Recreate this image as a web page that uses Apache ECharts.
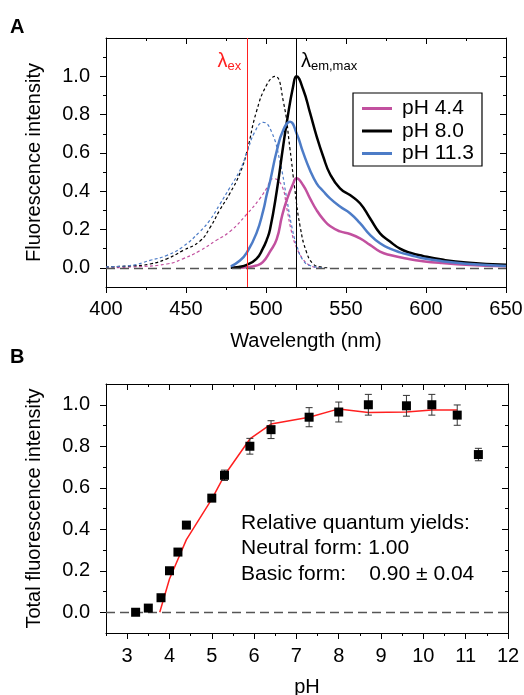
<!DOCTYPE html>
<html><head><meta charset="utf-8">
<script src="https://cdn.jsdelivr.net/npm/echarts@6/dist/echarts.min.js"></script>
<style>html,body{margin:0;padding:0;background:#fff}#c{width:524px;height:695px}</style>
</head><body><div id="c"></div>
<script>
const FONT = 'Liberation Sans, Arial, Helvetica, sans-serif';

// ---------- Panel A data (wavelength nm, normalised intensity) ----------
const seriesNames = ['pH 4.4', 'pH 8.0', 'pH 11.3'];
// emission (solid)
const em44_wl = [480,488,494,498,502.5,506.7,510,513,517,519,523.3,527.5,531.7,535.8,540,546.25,552.5,558.75,565,571.25,577.5,590,598,610,625,650];
const em44_I  = [0,0.003,0.012,0.03,0.085,0.15,0.27,0.355,0.44,0.468,0.43,0.363,0.30,0.253,0.218,0.19,0.177,0.154,0.12,0.085,0.067,0.045,0.035,0.025,0.016,0.008];
const em80_wl = [478,483,488,494,498,500.4,502.5,506.7,510.8,513,517,519,523.3,527.5,531.7,535.8,540,546.25,552.5,558.75,565,571.25,577.5,583.75,590,598,610,625,650];
const em80_I  = [0,0.005,0.016,0.047,0.10,0.145,0.20,0.40,0.64,0.76,0.95,1.0,0.93,0.81,0.685,0.58,0.49,0.415,0.38,0.337,0.259,0.18,0.137,0.10,0.079,0.062,0.043,0.028,0.016];
const em113_wl = [478,483.75,488,494,498.3,500.4,502.5,506.7,510.8,515,519.2,523.3,527.5,531.7,535.8,540,546.25,552.5,558.75,565,571.25,577.5,583.75,590,598,610,625,650];
const em113_I  = [0.008,0.038,0.08,0.18,0.30,0.38,0.45,0.61,0.72,0.763,0.70,0.60,0.51,0.44,0.40,0.363,0.32,0.285,0.233,0.172,0.128,0.10,0.081,0.067,0.05,0.035,0.022,0.01];
// excitation (dashed)
const ex44_wl = [400,417,438,448,458.75,469,477.5,488,496,500,504.6,509.8,513,516,519,523,527.5,533];
const ex44_I  = [0,0.005,0.02,0.047,0.09,0.144,0.19,0.28,0.36,0.41,0.466,0.43,0.31,0.187,0.108,0.047,0.012,0];
const ex80_wl = [400,415,427.5,438,448,458.75,465,471,477.5,483.75,488,494,500.4,505.6,510.8,515,518,521.25,525.4,529.6,534,540];
const ex80_I  = [0.005,0.01,0.02,0.047,0.09,0.14,0.21,0.30,0.39,0.495,0.605,0.815,0.955,1.0,0.87,0.62,0.41,0.22,0.08,0.02,0.005,0];
const ex113_wl = [400,415,427.5,438,448,458.75,465,471,477.5,483.75,488,493,498.3,503.5,508.75,513,516,519.2,523.3,527.5,535];
const ex113_I  = [0.005,0.012,0.039,0.065,0.11,0.19,0.25,0.33,0.42,0.51,0.60,0.71,0.76,0.71,0.553,0.36,0.22,0.117,0.038,0.012,0];
const lambdaEx = 488;
const lambdaEmMax = 519;

const aXTicks = [400,450,500,550,600,650];
const aXMinor = [425,475,525,575,625];
const aYTicks = [0,0.2,0.4,0.6,0.8,1.0];
const aYMinor = [0.1,0.3,0.5,0.7,0.9,1.1];

// ---------- Panel B data ----------
const pH      = [3.2,3.5,3.8,4.0,4.2,4.4,5.0,5.3,5.9,6.4,7.3,8.0,8.7,9.6,10.2,10.8,11.3];
const totalI  = [0.00,0.02,0.07,0.20,0.29,0.42,0.55,0.66,0.80,0.88,0.94,0.965,1.00,0.995,1.00,0.95,0.76];
const totalErr= [0,0,0,0,0,0,0.015,0.025,0.038,0.043,0.046,0.048,0.05,0.05,0.05,0.049,0.03];
const fit_pH  = [3.77,4.0,4.4,5.0,5.3,5.9,6.4,7.3,8.0,8.7,9.6,10.2,10.8];
const fit_I   = [0,0.16,0.35,0.545,0.66,0.835,0.907,0.94,0.98,0.963,0.965,0.975,0.975];

const bXTicks = [3,4,5,6,7,8,9,10,11,12];
const bXMinor = [2.5,3.5,4.5,5.5,6.5,7.5,8.5,9.5,10.5,11.5];
const bYTicks = [0,0.2,0.4,0.6,0.8,1.0];
const bYMinor = [0.1,0.3,0.5,0.7,0.9];

const zip = (a, b) => a.map((v, i) => [v, b[i]]);

const C_PINK = '#c2509f', C_BLACK = '#000000', C_BLUE = '#4d7cc7', C_RED = '#ff2020';
const lineSt = {color: '#000', width: 1};

function axisSet(dim, gridIndex, majors, minors, min, max, fmt, name, nameGap, labelMargin) {
  const isX = dim === 'x';
  const main = isX ? 'bottom' : 'left';
  const opp = isX ? 'top' : 'right';
  const base = {gridIndex, type: 'value', min, max, splitLine: {show: false}, axisPointer: {show: false}};
  return [
    Object.assign({}, base, {
      position: main,
      axisLine: {show: true, onZero: false, lineStyle: lineSt},
      axisTick: {show: true, inside: false, length: 6, customValues: majors, lineStyle: lineSt},
      axisLabel: {show: true, customValues: majors, formatter: fmt, margin: labelMargin,
        fontSize: 20, color: '#000', fontFamily: FONT},
      name, nameLocation: 'middle', nameGap,
      nameTextStyle: {fontSize: 20, color: '#000', fontFamily: FONT}
    }),
    Object.assign({}, base, {
      position: main,
      axisLine: {show: false, onZero: false},
      axisTick: {show: true, inside: false, length: 3, customValues: minors, lineStyle: lineSt},
      axisLabel: {show: false}
    }),
    Object.assign({}, base, {
      position: opp,
      axisLine: {show: true, onZero: false, lineStyle: lineSt},
      axisTick: {show: true, inside: true, length: 6, customValues: majors, lineStyle: lineSt},
      axisLabel: {show: false}
    }),
    Object.assign({}, base, {
      position: opp,
      axisLine: {show: false, onZero: false},
      axisTick: {show: true, inside: true, length: 3, customValues: minors, lineStyle: lineSt},
      axisLabel: {show: false}
    })
  ];
}

const fmt1 = v => (Math.abs(v) < 1e-9 ? 0 : v).toFixed(1);
const fmt0 = v => String(Math.round(v));

const xAxis = [].concat(
  axisSet('x', 0, aXTicks, aXMinor, 400, 650, fmt0, 'Wavelength (nm)', 44, 12),
  axisSet('x', 1, bXTicks, bXMinor, 2.5, 12, fmt0, 'pH', 44, 13)
);
const yAxis = [].concat(
  axisSet('y', 0, aYTicks, aYMinor, -0.1, 1.2, fmt1, 'Fluorescence intensity', 62, 16),
  axisSet('y', 1, bYTicks, bYMinor, -0.1, 1.1, fmt1, 'Total fluorescence intensity', 62, 16)
);

function solid(name, wl, I, color) {
  return {name, type: 'line', xAxisIndex: 0, yAxisIndex: 0, data: zip(wl, I),
    smooth: 0.5, showSymbol: false, symbol: 'none', color,
    itemStyle: {color}, lineStyle: {color, width: 2.5}, z: 4};
}
function dashed(name, wl, I, color) {
  return {name, type: 'line', xAxisIndex: 0, yAxisIndex: 0, data: zip(wl, I),
    smooth: 0.5, showSymbol: false, symbol: 'none', color,
    itemStyle: {color}, lineStyle: {color, width: 1.2, type: [3, 2.5]}, z: 3};
}
// full-height vertical rule drawn through the axis scale
function vrule(name, value, color, width) {
  return {name, type: 'custom', xAxisIndex: 0, yAxisIndex: 0, z: 5, silent: true,
    data: [[value]],
    renderItem: (params, api) => {
      const cs = params.coordSys;
      const x = Math.round(api.coord([api.value(0), 0])[0]) + 0.5;
      return {type: 'line', shape: {x1: x, y1: cs.y, x2: x, y2: cs.y + cs.height},
        style: {stroke: color, lineWidth: width}};
    }};
}

const zeroLine = {silent: true, symbol: ['none', 'none'], label: {show: false}, animation: false,
  lineStyle: {color: '#555', width: 1.3, type: [9, 5], opacity: 1}, data: [{yAxis: 0}]};

const lamRich = color => ({
  l: {fontSize: 20, lineHeight: 22, color, fontFamily: FONT},
  s: {fontSize: 13, lineHeight: 13, verticalAlign: 'bottom', color, fontFamily: FONT}
});

const series = [
  Object.assign(dashed('ex 4.4', ex44_wl, ex44_I, C_PINK), {markLine: zeroLine}),
  Object.assign(dashed('ex 8.0', ex80_wl, ex80_I, C_BLACK), {
    markPoint: {silent: true, symbol: 'circle', symbolSize: 1, itemStyle: {color: 'rgba(0,0,0,0)'},
      data: [{coord: [lambdaEx, 1.075], label: {show: true, position: 'left', distance: 5,
        formatter: '{l|λ}{s|ex}', rich: lamRich(C_RED)}}]}
  }),
  dashed('ex 11.3', ex113_wl, ex113_I, C_BLUE),
  solid(seriesNames[0], em44_wl, em44_I, C_PINK),
  Object.assign(solid(seriesNames[1], em80_wl, em80_I, C_BLACK), {
    markPoint: {silent: true, symbol: 'circle', symbolSize: 1, itemStyle: {color: 'rgba(0,0,0,0)'},
      data: [{coord: [lambdaEmMax, 1.075], label: {show: true, position: 'right', distance: 4,
        formatter: '{l|λ}{s|em,max}', rich: lamRich('#000')}}]}
  }),
  solid(seriesNames[2], em113_wl, em113_I, C_BLUE),
  vrule('λex', lambdaEx, C_RED, 1),
  vrule('λem,max', lambdaEmMax, '#000', 1),
  // Panel B
  {name: 'fit', type: 'line', xAxisIndex: 4, yAxisIndex: 4, data: zip(fit_pH, fit_I),
    showSymbol: false, symbol: 'none', lineStyle: {color: C_RED, width: 1.5}, color: C_RED, z: 3,
    markLine: zeroLine},
  {name: 'err', type: 'custom', xAxisIndex: 4, yAxisIndex: 4, z: 4,
    data: pH.map((x, i) => [x, totalI[i] - totalErr[i], totalI[i] + totalErr[i]]),
    renderItem: (params, api) => {
      const x = api.value(0);
      const p1 = api.coord([x, api.value(1)]);
      const p2 = api.coord([x, api.value(2)]);
      const w = 3.5, st = {stroke: '#333', lineWidth: 1};
      return {type: 'group', children: [
        {type: 'line', shape: {x1: p1[0], y1: p1[1], x2: p2[0], y2: p2[1]}, style: st},
        {type: 'line', shape: {x1: p1[0] - w, y1: p1[1], x2: p1[0] + w, y2: p1[1]}, style: st},
        {type: 'line', shape: {x1: p2[0] - w, y1: p2[1], x2: p2[0] + w, y2: p2[1]}, style: st}
      ]};
    }},
  {name: 'total', type: 'scatter', xAxisIndex: 4, yAxisIndex: 4, data: zip(pH, totalI),
    symbol: 'rect', symbolSize: 9, itemStyle: {color: '#000', opacity: 1}, z: 5}
];

const chart = echarts.init(document.getElementById('c'), null, {renderer: 'canvas'});
chart.setOption({
  animation: false,
  backgroundColor: '#fff',
  textStyle: {fontFamily: FONT},
  grid: [
    {left: 106, right: 18, top: 38, bottom: 408, outerBoundsMode: 'none', containLabel: false},
    {left: 106, right: 16, top: 384, bottom: 62, outerBoundsMode: 'none', containLabel: false}
  ],
  xAxis, yAxis,
  legend: {
    data: seriesNames, orient: 'vertical', left: 353, top: 93,
    icon: 'rect', itemWidth: 30, itemHeight: 3, itemGap: 1.5,
    padding: [5, 8, 2, 9], borderColor: '#000', borderWidth: 1.2, backgroundColor: '#fff',
    textStyle: {fontSize: 21, lineHeight: 21, color: '#000', fontFamily: FONT, padding: [0, 0, 0, 5]},
    selectedMode: false
  },
  graphic: [
    {type: 'text', left: 10, top: 17, style: {text: 'A', font: 'bold 20px ' + FONT, fill: '#000'}},
    {type: 'text', left: 10, top: 347, style: {text: 'B', font: 'bold 20px ' + FONT, fill: '#000'}},
    {type: 'text', left: 241, top: 510, style: {
      text: 'Relative quantum yields:\nNeutral form: 1.00\nBasic form:    0.90 ± 0.04',
      font: '21px ' + FONT, fill: '#000', lineHeight: 25.5}}
  ],
  series
});
</script></body></html>
